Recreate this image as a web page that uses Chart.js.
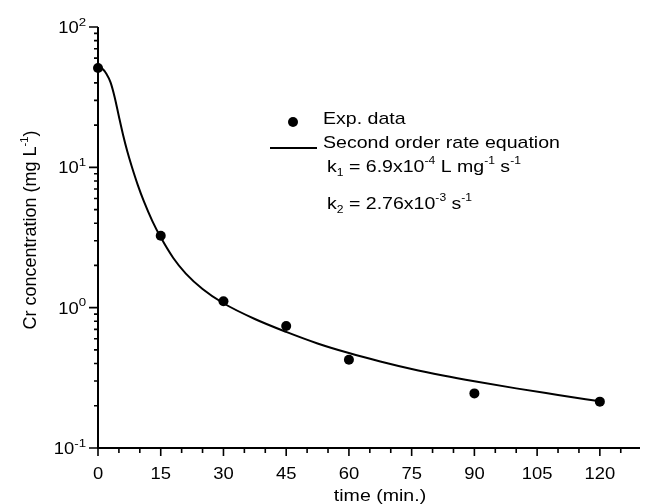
<!DOCTYPE html>
<html lang="en">
<head>
    <meta charset="UTF-8">
    <title>Cr concentration</title>
    <script src="https://cdn.jsdelivr.net/npm/chart.js"></script>
    <style>
        html, body { margin: 0; padding: 0; background: #fff; overflow: hidden; }
        canvas { display: block; }
    </style>
</head>
<body>
    <canvas id="myChart" width="645" height="504"></canvas>
<script>
    // experimental points
    const tempos = [0, 15, 30, 45, 60, 90, 120]
    const concentracao = [51, 3.25, 1.11, 0.74, 0.425, 0.245, 0.214]

    // fitted curve (second order rate equation)
    const tempoAjuste = [0, 1, 2, 3, 4, 5, 6, 7, 8, 9.5, 11, 13, 15, 18, 21, 25, 30, 37.5, 45, 52.5, 60, 67.5, 75, 82.5, 90, 100, 110, 120]
    const concAjuste = [52, 50.5, 46.5, 40.3, 31.5, 23, 17, 13, 10.3, 7.5, 5.69, 4.14, 3.17, 2.26, 1.75, 1.36, 1.075, 0.83, 0.672, 0.556, 0.475, 0.414, 0.366, 0.329, 0.299, 0.266, 0.239, 0.215]

    const xMajor = [0, 15, 30, 45, 60, 75, 90, 105, 120]
    const yDecadas = [-1, 0, 1, 2]

    const FONTE = 'Liberation Sans, Arial, sans-serif'
    const SX = 1.15

    // draws text with sub/superscripts, parts = [[texto, 'sup'|'sub'|'']]
    function textoRico(ctx, partes, x, y, tam, alinhar, esc) {
        const r = esc || 0.62
        ctx.save()
        let largura = 0
        for (const p of partes) {
            const t = p[1] ? tam * r : tam
            ctx.font = `${t}px ${FONTE}`
            largura += ctx.measureText(p[0]).width
        }
        ctx.translate(x, y)
        ctx.scale(SX, 1)
        let cx = 0
        if (alinhar == 'right') cx = -largura
        if (alinhar == 'center') cx = -largura / 2
        ctx.fillStyle = '#000'
        ctx.textBaseline = 'alphabetic'
        ctx.textAlign = 'left'
        for (const p of partes) {
            let t = tam, dy = 0
            if (p[1] == 'sup') { t = tam * r; dy = -tam * 0.45 }
            if (p[1] == 'sub') { t = tam * r; dy = tam * 0.22 }
            ctx.font = `${t}px ${FONTE}`
            ctx.fillText(p[0], cx, dy)
            cx += ctx.measureText(p[0]).width
        }
        ctx.restore()
    }

    const eixos = {
        id: 'eixos',
        afterDraw(chart) {
            const ctx = chart.ctx
            const area = chart.chartArea
            const x = chart.scales.x
            const y = chart.scales.y
            ctx.save()
            ctx.strokeStyle = '#000'
            ctx.lineWidth = 2
            ctx.beginPath()
            ctx.moveTo(area.left, area.top)
            ctx.lineTo(area.left, area.bottom + 1)
            ctx.moveTo(area.left - 1, area.bottom)
            ctx.lineTo(area.right, area.bottom)
            ctx.stroke()

            // x ticks
            ctx.lineWidth = 1.6
            ctx.beginPath()
            for (let v = 0; v <= x.max; v += 5) {
                const px = x.getPixelForValue(v)
                const len = v % 15 == 0 ? 8 : 5
                ctx.moveTo(px, area.bottom)
                ctx.lineTo(px, area.bottom + len)
            }
            // y ticks
            for (const e of yDecadas) {
                for (let k = 1; k <= 9; k++) {
                    const v = k * Math.pow(10, e)
                    if (v > y.max * 1.0001) break
                    const py = y.getPixelForValue(v)
                    const len = k == 1 ? 9 : 4
                    ctx.moveTo(area.left - len, py)
                    ctx.lineTo(area.left, py)
                }
            }
            ctx.stroke()

            for (const v of xMajor) {
                textoRico(ctx, [[String(v), '']], x.getPixelForValue(v), area.bottom + 31, 16, 'center')
            }
            for (const e of yDecadas) {
                const py = y.getPixelForValue(Math.pow(10, e))
                textoRico(ctx, [['10', ''], [String(e), 'sup']], area.left - 12, py + 6, 16, 'right', 0.72)
            }

            // axis titles
            textoRico(ctx, [['time (min.)', '']], 380, 501, 17, 'center')
            ctx.save()
            ctx.translate(36, 230)
            ctx.rotate(-Math.PI / 2)
            ctx.scale(1 / SX, 1)
            textoRico(ctx, [['Cr concentration (mg L', ''], ['-1', 'sup'], [')', '']], 0, 0, 18, 'center')
            ctx.restore()

            // legend
            ctx.fillStyle = '#000'
            ctx.beginPath()
            ctx.arc(293, 122, 5, 0, Math.PI * 2)
            ctx.fill()
            ctx.lineWidth = 2
            ctx.beginPath()
            ctx.moveTo(270, 148)
            ctx.lineTo(317, 148)
            ctx.stroke()
            textoRico(ctx, [['Exp. data', '']], 323, 124, 17, 'left')
            textoRico(ctx, [['Second order rate equation', '']], 323, 148, 17, 'left')
            textoRico(ctx, [['k', ''], ['1', 'sub'], [' = 6.9x10', ''], ['-4', 'sup'], [' L mg', ''], ['-1', 'sup'], [' s', ''], ['-1', 'sup']], 327, 172, 17, 'left')
            textoRico(ctx, [['k', ''], ['2', 'sub'], [' = 2.76x10', ''], ['-3', 'sup'], [' s', ''], ['-1', 'sup']], 327, 209, 17, 'left')
            ctx.restore()
        }
    }

    const ctx = document.getElementById('myChart')

    const grafico = new Chart(ctx, {
        type: 'line',
        data: {
            datasets: [{
                label: 'Exp. data',
                data: tempos.map((t, i) => ({ x: t, y: concentracao[i] })),
                showLine: false,
                pointRadius: 5,
                pointBackgroundColor: '#000',
                pointBorderColor: '#000',
                pointBorderWidth: 0,
                clip: false
            },
            {
                label: 'Second order rate equation',
                data: tempoAjuste.map((t, i) => ({ x: t, y: concAjuste[i] })),
                borderColor: '#000',
                borderWidth: 2,
                pointRadius: 0,
                cubicInterpolationMode: 'monotone',
                clip: false
            }]
        },
        options: {
            responsive: false,
            animation: false,
            devicePixelRatio: 1,
            layout: { padding: { left: 98, top: 27, right: 0, bottom: 56 } },
            plugins: { legend: { display: false }, tooltip: { enabled: false } },
            scales: {
                x: {
                    type: 'linear',
                    display: false,
                    min: 0,
                    max: 129.6
                },
                y: {
                    type: 'logarithmic',
                    display: false,
                    min: 0.1,
                    max: 100
                }
            }
        },
        plugins: [eixos]
    });
</script>
</body>
</html>
